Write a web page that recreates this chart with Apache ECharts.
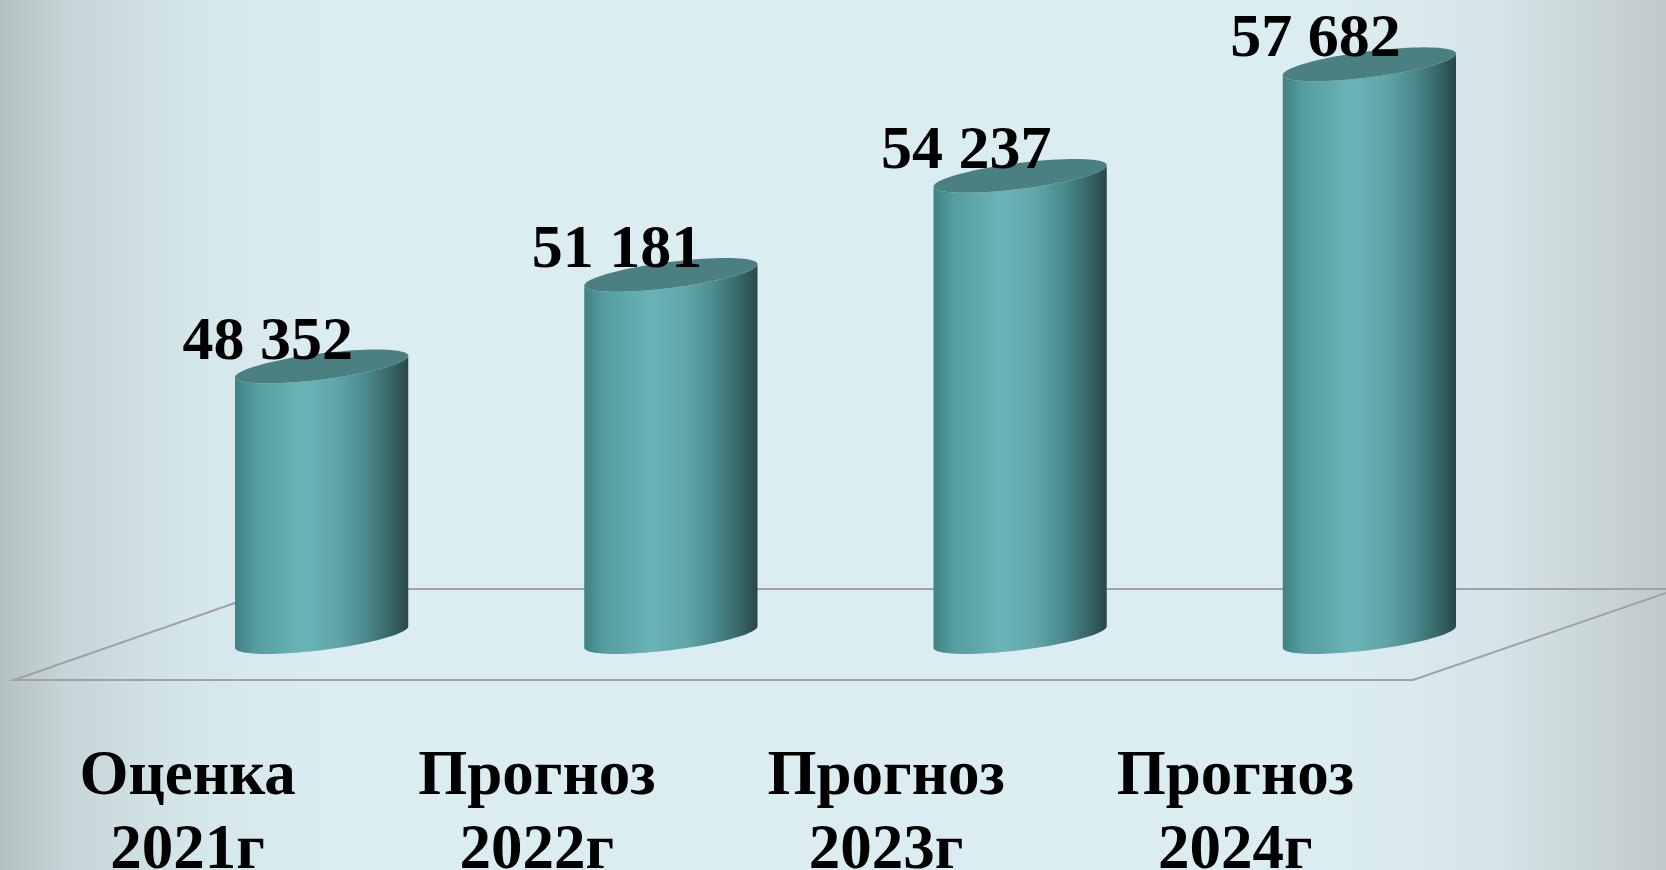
<!DOCTYPE html>
<html>
<head>
<meta charset="utf-8">
<style>
  html, body { margin: 0; padding: 0; overflow: hidden; }
  #chart { width: 1666px; height: 870px; }
</style>
<script src="https://cdn.jsdelivr.net/npm/echarts@6/dist/echarts.min.js"></script>
</head>
<body>
<div id="chart"></div>
<script>
const categories = ["Оценка\n2021г", "Прогноз\n2022г", "Прогноз\n2023г", "Прогноз\n2024г"];
const values = [48352, 51181, 54237, 57682];
const axisMin = 40000;
const axisMax = 58000;

const serif = '"Liberation Serif", "Times New Roman", serif';
const tilt = -0.126;

const chart = echarts.init(document.getElementById("chart"));

// points on a tilted ellipse, t from..to
function ellipse(cx, cy, a, b, from, to, steps) {
  const pts = [];
  for (let k = 0; k <= steps; k++) {
    const t = from + ((to - from) * k) / steps;
    const ex = a * Math.cos(t);
    const ey = b * Math.sin(t);
    pts.push([
      cx + ex * Math.cos(tilt) - ey * Math.sin(tilt),
      cy + ex * Math.sin(tilt) + ey * Math.cos(tilt),
    ]);
  }
  return pts;
}

function fmt(v) {
  return String(v).replace(/\B(?=(\d{3})+(?!\d))/g, " ");
}

function renderCylinder(params, api) {
  const i = api.value(0);
  const v = api.value(1);
  const top = api.coord([i, v]);
  const base = api.coord([i, axisMin]);
  const a = api.size([1, 0])[0] * 0.25;
  const b = 13;
  const cx = top[0];
  const body = ellipse(cx, base[1], a, b, Math.PI, 0, 40).concat(
    ellipse(cx, top[1], a, b, 0, Math.PI, 40),
  );
  return {
    type: "group",
    children: [
      {
        type: "polygon",
        shape: { points: body },
        style: {
          fill: new echarts.graphic.LinearGradient(0, 0, 1, 0, [
            { offset: 0, color: "#3f8282" },
            { offset: 0.12, color: "#559e9f" },
            { offset: 0.38, color: "#69b3b6" },
            { offset: 0.58, color: "#62a8ab" },
            { offset: 0.75, color: "#4b8a8c" },
            { offset: 0.9, color: "#376667" },
            { offset: 1, color: "#294647" },
          ]),
        },
      },
      {
        type: "polygon",
        shape: { points: ellipse(cx, top[1], a, b, 0, Math.PI * 2, 80) },
        style: { fill: "#4a8081" },
      },
      {
        type: "text",
        z2: 10,
        style: {
          text: fmt(v),
          x: cx - 54,
          y: top[1] - 24,
          align: "center",
          verticalAlign: "middle",
          fill: "#000",
          font: "bold 62px " + serif,
        },
      },
      {
        type: "text",
        z2: 10,
        style: {
          text: categories[i],
          x: cx - 134,
          y: base[1] + 104,
          align: "center",
          verticalAlign: "top",
          lineHeight: 74,
          fill: "#000",
          font: "bold 63px " + serif,
        },
      },
    ],
  };
}

chart.setOption({
  animation: false,
  backgroundColor: new echarts.graphic.LinearGradient(0, 0, 1, 0, [
    { offset: 0, color: "#b4c1c1" },
    { offset: 0.04, color: "#c6d5d7" },
    { offset: 0.12, color: "#d6e7eb" },
    { offset: 0.2, color: "#dcedf1" },
    { offset: 0.8, color: "#dcedf1" },
    { offset: 0.9, color: "#d5e4e7" },
    { offset: 0.97, color: "#c6d2d3" },
    { offset: 1, color: "#bdc9ca" },
  ]),
  grid: { left: 147, right: 122, top: 54, bottom: 233 },
  xAxis: {
    type: "category",
    data: categories,
    show: false,
  },
  yAxis: {
    type: "value",
    min: axisMin,
    max: axisMax,
    show: false,
  },
  graphic: [
    {
      type: "polyline",
      z: 0,
      silent: true,
      shape: {
        points: [
          [1672, 589],
          [275, 589],
          [14, 680],
          [1413, 680],
          [1672, 591],
        ],
      },
      style: { stroke: "#9fa3a3", lineWidth: 2, fill: null },
    },
  ],
  series: [
    {
      type: "custom",
      z: 5,
      renderItem: renderCylinder,
      encode: { x: 0, y: 1 },
      data: values.map((v, i) => [i, v]),
    },
  ],
});
</script>
</body>
</html>
